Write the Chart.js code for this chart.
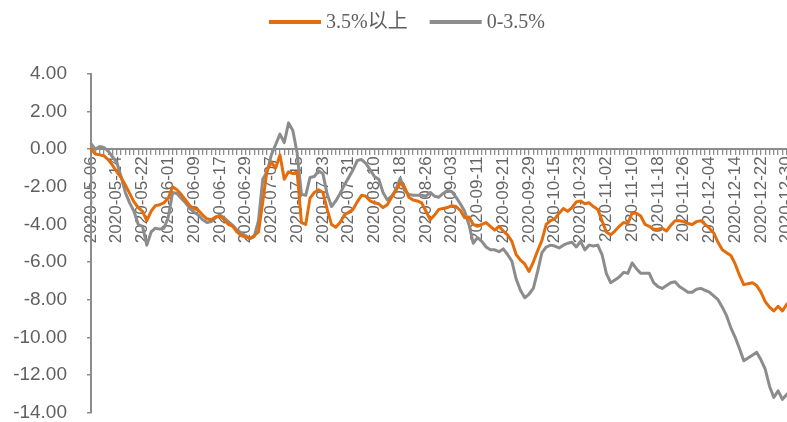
<!DOCTYPE html>
<html>
<head>
<meta charset="utf-8">
<script src="https://cdn.jsdelivr.net/npm/chart.js@4.4.1/dist/chart.umd.min.js"></script>
<style>
  html, body { margin: 0; padding: 0; background: #ffffff; overflow: hidden; }
  #wrap { width: 791px; height: 422px; }
</style>
</head>
<body>
<div id="wrap"><canvas id="chart" width="791" height="422"></canvas></div>
<script>
// Trading days, 2020-05-06 .. 2020-12-31
const dates = [
  '2020-05-06','2020-05-07','2020-05-08','2020-05-11','2020-05-12','2020-05-13','2020-05-14','2020-05-15','2020-05-18','2020-05-19','2020-05-20','2020-05-21','2020-05-22','2020-05-25','2020-05-26','2020-05-27','2020-05-28','2020-05-29',
  '2020-06-01','2020-06-02','2020-06-03','2020-06-04','2020-06-05','2020-06-08','2020-06-09','2020-06-10','2020-06-11','2020-06-12','2020-06-15','2020-06-16','2020-06-17','2020-06-18','2020-06-19','2020-06-22','2020-06-23','2020-06-24','2020-06-29','2020-06-30',
  '2020-07-01','2020-07-02','2020-07-03','2020-07-06','2020-07-07','2020-07-08','2020-07-09','2020-07-10','2020-07-13','2020-07-14','2020-07-15','2020-07-16','2020-07-17','2020-07-20','2020-07-21','2020-07-22','2020-07-23','2020-07-24','2020-07-27','2020-07-28','2020-07-29','2020-07-30','2020-07-31',
  '2020-08-03','2020-08-04','2020-08-05','2020-08-06','2020-08-07','2020-08-10','2020-08-11','2020-08-12','2020-08-13','2020-08-14','2020-08-17','2020-08-18','2020-08-19','2020-08-20','2020-08-21','2020-08-24','2020-08-25','2020-08-26','2020-08-27','2020-08-28','2020-08-31',
  '2020-09-01','2020-09-02','2020-09-03','2020-09-04','2020-09-07','2020-09-08','2020-09-09','2020-09-10','2020-09-11','2020-09-14','2020-09-15','2020-09-16','2020-09-17','2020-09-18','2020-09-21','2020-09-22','2020-09-23','2020-09-24','2020-09-25','2020-09-28','2020-09-29','2020-09-30',
  '2020-10-09','2020-10-12','2020-10-13','2020-10-14','2020-10-15','2020-10-16','2020-10-19','2020-10-20','2020-10-21','2020-10-22','2020-10-23','2020-10-26','2020-10-27','2020-10-28','2020-10-29','2020-10-30',
  '2020-11-02','2020-11-03','2020-11-04','2020-11-05','2020-11-06','2020-11-09','2020-11-10','2020-11-11','2020-11-12','2020-11-13','2020-11-16','2020-11-17','2020-11-18','2020-11-19','2020-11-20','2020-11-23','2020-11-24','2020-11-25','2020-11-26','2020-11-27','2020-11-30',
  '2020-12-01','2020-12-02','2020-12-03','2020-12-04','2020-12-07','2020-12-08','2020-12-09','2020-12-10','2020-12-11','2020-12-14','2020-12-15','2020-12-16','2020-12-17','2020-12-18','2020-12-21','2020-12-22','2020-12-23','2020-12-24','2020-12-25','2020-12-28','2020-12-29','2020-12-30','2020-12-31'
];

// Dates that carry a printed label on the category axis
const labelledDates = [
  '2020-05-06','2020-05-14','2020-05-22','2020-06-01','2020-06-09','2020-06-17','2020-06-29',
  '2020-07-07','2020-07-15','2020-07-23','2020-07-31','2020-08-10','2020-08-18','2020-08-26',
  '2020-09-03','2020-09-11','2020-09-21','2020-09-29','2020-10-15','2020-10-23','2020-11-02',
  '2020-11-10','2020-11-18','2020-11-26','2020-12-04','2020-12-14','2020-12-22','2020-12-30'
];

// Cumulative change (%) — bonds yielding 3.5% and above
const above35 = [
  0.0,-0.25,-0.3,-0.35,-0.55,-0.85,-1.2,-1.5,-1.9,-2.35,-2.8,-3.1,-3.3,-3.8,-3.3,-3.0,-2.95,-2.85,
  -2.6,-2.0,-2.15,-2.4,-2.7,-3.0,-3.15,-3.25,-3.5,-3.7,-3.75,-3.6,-3.55,-3.75,-4.0,-4.1,-4.4,-4.6,-4.65,-4.75,
  -4.6,-4.4,-2.8,-1.1,-0.7,-1.0,-0.3,-1.6,-1.2,-1.3,-1.2,-3.9,-4.0,-2.6,-2.3,-2.15,-2.3,-3.2,-4.0,-4.15,-3.9,-3.5,-3.35,
  -3.2,-2.8,-2.45,-2.5,-2.75,-2.85,-2.9,-3.1,-2.95,-2.55,-2.2,-1.8,-2.0,-2.55,-2.7,-2.75,-2.85,-3.3,-3.75,-3.5,-3.2,
  -3.15,-3.1,-3.0,-3.05,-3.25,-3.65,-3.6,-4.0,-4.1,-4.0,-3.9,-4.1,-4.3,-4.1,-4.35,-4.55,-4.9,-5.6,-5.9,-6.1,-6.5,-6.0,
  -5.4,-4.85,-4.0,-3.8,-3.7,-3.4,-3.15,-3.3,-3.1,-2.8,-2.75,-2.9,-2.85,-3.05,-3.2,-3.8,
  -4.4,-4.55,-4.35,-4.1,-3.9,-3.95,-3.4,-3.4,-3.55,-4.0,-4.1,-4.25,-4.25,-4.2,-4.35,-4.05,-3.8,-3.8,-3.85,-3.95,-4.0,
  -3.85,-3.8,-4.0,-4.2,-4.45,-4.95,-5.35,-5.5,-5.65,-6.1,-6.7,-7.2,-7.15,-7.1,-7.25,-7.6,-8.1,-8.4,-8.6,-8.35,-8.6,-8.25,-8.1
];

// Cumulative change (%) — bonds yielding 0-3.5%
const below35 = [
  0.3,0.0,0.15,0.1,-0.1,-0.4,-0.7,-1.45,-2.3,-2.85,-3.3,-4.0,-4.1,-5.1,-4.4,-4.2,-4.25,-4.2,
  -3.6,-2.3,-2.35,-2.6,-2.85,-3.15,-3.35,-3.5,-3.75,-3.9,-3.85,-3.65,-3.5,-3.65,-3.85,-4.05,-4.3,-4.45,-4.6,-4.75,
  -4.65,-3.8,-1.6,-1.2,-0.3,0.25,0.8,0.35,1.4,1.0,-0.2,-2.4,-2.45,-1.5,-1.45,-1.15,-1.3,-2.4,-3.05,-2.75,-2.35,-1.9,-1.5,
  -1.1,-0.6,-0.55,-0.75,-1.1,-1.45,-1.6,-2.3,-2.7,-2.5,-2.15,-1.55,-2.2,-2.4,-2.45,-2.45,-2.45,-2.5,-2.3,-2.5,-2.55,
  -2.35,-2.2,-2.25,-2.55,-2.9,-3.3,-4.0,-5.0,-4.7,-4.9,-5.2,-5.35,-5.35,-5.45,-5.3,-5.6,-5.95,-6.9,-7.5,-7.9,-7.7,-7.4,
  -6.5,-5.5,-5.2,-5.1,-5.15,-5.25,-5.1,-5.0,-4.95,-5.2,-4.9,-5.35,-5.1,-5.15,-5.1,-5.6,
  -6.6,-7.1,-6.95,-6.8,-6.55,-6.6,-6.05,-6.35,-6.6,-6.6,-6.6,-7.1,-7.3,-7.4,-7.25,-7.1,-7.05,-7.3,-7.45,-7.6,-7.6,
  -7.45,-7.4,-7.5,-7.6,-7.8,-8.0,-8.4,-8.85,-9.5,-10.0,-10.6,-11.25,-11.1,-10.95,-10.8,-11.2,-11.7,-12.6,-13.2,-12.85,-13.3,-13.05,-12.8
];

const seriesNames = ['3.5%以上', '0-3.5%'];
const seriesColors = ['#E46C0A', '#8C8C8C'];
const axisColor = '#8C8C8C';
const textColor = '#5F5F5F';

// Legend row drawn across the top: line swatch followed by series name
const topKey = {
  id: 'topKey',
  afterDraw(chart) {
    const ctx = chart.ctx;
    ctx.save();
    ctx.font = '20px "Liberation Serif", "Noto Sans CJK SC", serif';
    ctx.textBaseline = 'middle';
    ctx.textAlign = 'left';
    const y = 22;
    let x = 269;
    chart.data.datasets.forEach((ds) => {
      ctx.strokeStyle = ds.borderColor;
      ctx.lineWidth = 4;
      ctx.beginPath();
      ctx.moveTo(x, y);
      ctx.lineTo(x + 52, y);
      ctx.stroke();
      ctx.fillStyle = textColor;
      ctx.fillText(ds.label, x + 57, y + 1);
      x += 57 + ctx.measureText(ds.label).width + 22;
    });
    ctx.restore();
  }
};

new Chart(document.getElementById('chart'), {
  type: 'line',
  data: {
    labels: dates,
    datasets: [
      { label: seriesNames[0], data: above35, borderColor: seriesColors[0], backgroundColor: seriesColors[0] },
      { label: seriesNames[1], data: below35, borderColor: seriesColors[1], backgroundColor: seriesColors[1] }
    ]
  },
  options: {
    responsive: false,
    animation: false,
    layout: { padding: { top: 74, bottom: 9.5, left: 0, right: 0 } },
    elements: {
      line: { borderWidth: 3, tension: 0, borderJoinStyle: 'round', borderCapStyle: 'round' },
      point: { radius: 0, hoverRadius: 0 }
    },
    plugins: {
      legend: { display: false },
      tooltip: { enabled: false }
    },
    scales: {
      x: {
        type: 'category',
        position: { y: 0 },
        offset: false,
        grid: { drawOnChartArea: false, drawTicks: true, tickLength: 5, color: axisColor, lineWidth: 1.3 },
        border: { display: true, color: axisColor, width: 2 },
        ticks: {
          autoSkip: false,
          minRotation: 90,
          maxRotation: 90,
          padding: 2,
          color: '#666666',
          font: { family: '"Liberation Sans", Arial, sans-serif', size: 17 },
          callback(value, index) {
            const d = dates[index];
            return labelledDates.includes(d) ? d : '';
          }
        },
        afterFit(scale) { scale.paddingLeft = 0; scale.paddingRight = 0; }
      },
      y: {
        min: -14,
        max: 4,
        grid: { drawOnChartArea: false, drawTicks: true, tickLength: 4, color: axisColor, lineWidth: 1.5 },
        border: { display: true, color: axisColor, width: 2 },
        ticks: {
          stepSize: 2,
          padding: 20,
          color: textColor,
          font: { family: '"Liberation Sans", Arial, sans-serif', size: 19 },
          callback(value) { return value.toFixed(2); }
        },
        afterFit(scale) { scale.width = 91; scale.paddingTop = 0; scale.paddingBottom = 0; }
      }
    }
  },
  plugins: [topKey]
});
</script>
</body>
</html>
